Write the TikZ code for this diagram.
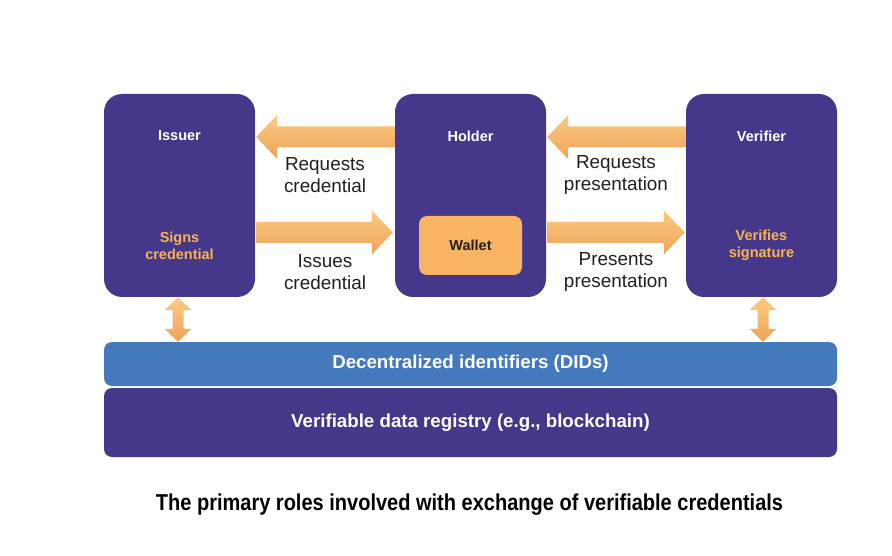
\documentclass[tikz,border=0pt]{standalone}
\usepackage{fontspec}
\setmainfont{Liberation Sans}
\newfontfamily\capfont[FakeStretch=0.87]{Liberation Sans}
\usetikzlibrary{calc}
\definecolor{rolepurple}{RGB}{69,56,139}
\definecolor{didblue}{RGB}{68,121,188}
\definecolor{walletorange}{RGB}{248,180,98}
\definecolor{notegold}{RGB}{249,178,80}
\definecolor{arrtop}{RGB}{252,202,132}
\definecolor{arrbot}{RGB}{238,163,88}
\definecolor{labelgray}{RGB}{35,31,32}

% horizontal fat arrow: #1 tail, #2 tip, #3 = 1 points left, -1 points right
\newcommand{\fatarrow}[3]{%
  \shade[top color=arrtop,bottom color=arrbot] (#2) -- ($(#2)+(#3*21,-22)$) -- ($(#2)+(#3*21,-10.5)$)
    -- ($(#1)+(0,-10.5)$) -- ($(#1)+(0,10.5)$) -- ($(#2)+(#3*21,10.5)$) -- ($(#2)+(#3*21,22)$) -- cycle;}
% vertical double arrow between #1 (top) and #2 (bottom)
\newcommand{\linkarrow}[2]{%
  \shade[top color=arrtop,bottom color=arrbot] (#1) -- ($(#1)+(13.5,13)$) -- ($(#1)+(5.5,13)$)
    -- ($(#2)+(5.5,-13)$) -- ($(#2)+(13.5,-13)$) -- (#2) -- ($(#2)+(-13.5,-13)$) -- ($(#2)+(-5.5,-13)$)
    -- ($(#1)+(-5.5,13)$) -- ($(#1)+(-13.5,13)$) -- cycle;}

\begin{document}
\begin{tikzpicture}[x=1pt,y=-1pt,
    role/.style={fill=rolepurple,rounded corners=18pt,minimum width=151pt,minimum height=203pt,inner sep=0pt},
    bar/.style={rounded corners=8pt,minimum width=733pt,inner sep=0pt,text=white,
      font=\bfseries\fontsize{18.7}{22}\selectfont},
    title/.style={text=white,font=\bfseries\fontsize{14.5}{17}\selectfont},
    note/.style={text=notegold,align=center,font=\bfseries\fontsize{14.5}{17}\selectfont},
    flow/.style={text=labelgray,align=center,font=\fontsize{18.9}{22.5}\selectfont}]
    \useasboundingbox (0,0) rectangle (892,556);

    % roles
    \node[role] (issuer) at (179.5,195.5) {};
    \node[role] (holder) at (470.5,195.5) {};
    \node[role] (verifier) at (761.5,195.5) {};
    \node[title] (issuer-t) at (179.5,136) {Issuer};
    \node[title] (holder-t) at (470.5,136) {Holder};
    \node[title] (verifier-t) at (761.5,136) {Verifier};
    \node[note] (signs) at (179.5,245.5) {Signs\\credential};
    \node[note] (verifies) at (761.5,245.5) {Verifies\\signature};
    \node[fill=walletorange,rounded corners=8pt,minimum width=103pt,minimum height=59pt,
      text=labelgray,font=\bfseries\fontsize{14.5}{17}\selectfont] (wallet) at (470.5,245.5) {Wallet};

    % layers
    \node[bar,fill=didblue,minimum height=44pt] (dids) at (470.5,364) {Decentralized identifiers (DIDs)};
    \node[bar,fill=rolepurple,minimum height=69pt] (registry) at (470.5,422.5) {Verifiable data registry (e.g., blockchain)};

    % exchanges
    \fatarrow{$(holder.west)+(0,-58.5)$}{$(issuer.east)+(1,-58.5)$}{1}
    \fatarrow{$(issuer.east)+(1,37)$}{$(holder.west)+(-2,37)$}{-1}
    \fatarrow{$(verifier.west)+(0,-58.5)$}{$(holder.east)+(1,-58.5)$}{1}
    \fatarrow{$(holder.east)+(1,37)$}{$(verifier.west)+(-1,37)$}{-1}
    \node[flow] (req-cred) at (325,175) {Requests\\credential};
    \node[flow] (iss-cred) at (325,272) {Issues\\credential};
    \node[flow] (req-pres) at (616,175) {Requests\\presentation};
    \node[flow] (pre-pres) at (616,272) {Presents\\presentation};

    % links to the registry
    \linkarrow{$(issuer.south)+(-1.5,0)$}{$(issuer.south |- dids.north)+(-1.5,0)$}
    \linkarrow{$(verifier.south)+(1.5,0)$}{$(verifier.south |- dids.north)+(1.5,0)$}

    \node[text=black,font=\capfont\bfseries\fontsize{23}{27}\selectfont] (caption) at (469.5,505)
      {The primary roles involved with exchange of verifiable credentials};
\end{tikzpicture}
\end{document}
